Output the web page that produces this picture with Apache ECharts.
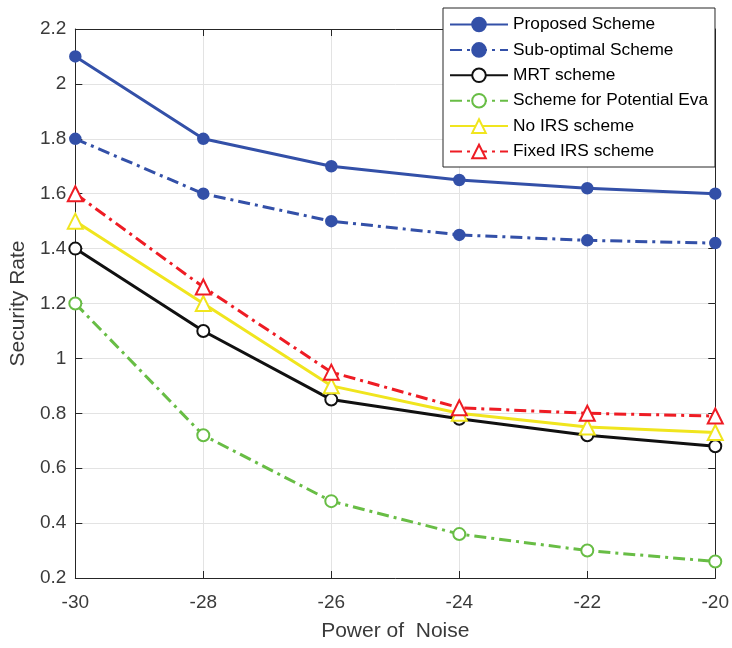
<!DOCTYPE html>
<html>
<head>
<meta charset="utf-8">
<script src="https://cdn.jsdelivr.net/npm/echarts@6/dist/echarts.min.js"></script>
<style>
  html, body { margin: 0; padding: 0; background: #fff; }
  #chart { width: 732px; height: 648px; }
</style>
</head>
<body>
<div id="chart"></div>
<script>
// x axis: noise power
var noiseLevels = [-30, -28, -26, -24, -22, -20];

// security rate per scheme
var proposed = [2.1, 1.8, 1.7, 1.65, 1.62, 1.6];
var subOptimal = [1.8, 1.6, 1.5, 1.45, 1.43, 1.42];
var mrt = [1.4, 1.1, 0.85, 0.78, 0.72, 0.68];
var potentialEva = [1.2, 0.72, 0.48, 0.36, 0.3, 0.26];
var noIrs = [1.5, 1.2, 0.9, 0.8, 0.75, 0.73];
var fixedIrs = [1.6, 1.26, 0.95, 0.82, 0.8, 0.79];

var seriesNames = ['Proposed Scheme', 'Sub-optimal Scheme', 'MRT scheme', 'Scheme for Potential Eva', 'No IRS scheme', 'Fixed IRS scheme'];

var dashDot = [12, 5, 3, 5];
var font = 'Liberation Sans, Arial, Helvetica, sans-serif';
var axisColor = '#262626';
var labelColor = '#3a3a3a';

function pairs(arr) {
  return arr.map(function (v, i) { return [noiseLevels[i], v]; });
}

function makeSeries(name, data, color, dash, symbol, size) {
  return {
    name: name,
    type: 'line',
    data: pairs(data),
    symbol: symbol,
    symbolSize: size,
    showAllSymbol: true,
    lineStyle: { color: color, width: 3, type: dash },
    itemStyle: { color: color, borderColor: color, borderWidth: 2.5 },
    emphasis: { disabled: true },
    z: 3
  };
}

var option = {
  animation: false,
  backgroundColor: '#fff',
  grid: { left: 75, right: 16, top: 29, bottom: 70 },
  legend: {
    orient: 'vertical',
    left: 443,
    top: 8,
    padding: [8, 7, 7, 6],
    itemWidth: 58,
    itemHeight: 17,
    itemGap: 8.4,
    backgroundColor: '#fff',
    borderColor: '#262626',
    borderWidth: 1,
    borderRadius: 0,
    textStyle: { fontFamily: font, fontSize: 17.3, color: '#000' },
    data: seriesNames
  },
  xAxis: [{
    type: 'value',
    min: -30,
    max: -20,
    interval: 2,
    name: 'Power of  Noise',
    nameLocation: 'middle',
    nameGap: 43,
    nameTextStyle: { fontFamily: font, fontSize: 21, color: labelColor },
    axisLine: { lineStyle: { color: axisColor, width: 1 } },
    axisTick: { inside: true, length: 7, lineStyle: { color: axisColor } },
    axisLabel: { fontFamily: font, fontSize: 19, color: labelColor, margin: 15 },
    splitLine: { show: true, lineStyle: { color: '#e3e3e3', width: 1 } }
  }, {
    type: 'value',
    position: 'top',
    min: -30,
    max: -20,
    interval: 2,
    axisLine: { lineStyle: { color: axisColor, width: 1 } },
    axisTick: { inside: true, length: 7, lineStyle: { color: axisColor } },
    axisLabel: { show: false },
    splitLine: { show: false }
  }],
  yAxis: [{
    type: 'value',
    min: 0.2,
    max: 2.2,
    interval: 0.2,
    name: 'Security Rate',
    nameLocation: 'middle',
    nameGap: 42,
    nameTextStyle: { fontFamily: font, fontSize: 21, color: labelColor },
    axisLine: { show: true, lineStyle: { color: axisColor, width: 1 } },
    axisTick: { show: true, inside: true, length: 7, lineStyle: { color: axisColor } },
    axisLabel: { fontFamily: font, fontSize: 19, color: labelColor, margin: 9 },
    splitLine: { show: true, lineStyle: { color: '#e3e3e3', width: 1 } }
  }, {
    type: 'value',
    position: 'right',
    min: 0.2,
    max: 2.2,
    interval: 0.2,
    axisLine: { show: true, lineStyle: { color: axisColor, width: 1 } },
    axisTick: { show: true, inside: true, length: 7, lineStyle: { color: axisColor } },
    axisLabel: { show: false },
    splitLine: { show: false }
  }],
  series: [
    makeSeries(seriesNames[0], proposed, '#3350a8', 'solid', 'circle', 10),
    makeSeries(seriesNames[1], subOptimal, '#3350a8', dashDot, 'circle', 10),
    makeSeries(seriesNames[2], mrt, '#111111', 'solid', 'emptyCircle', 12),
    makeSeries(seriesNames[3], potentialEva, '#68bd45', dashDot, 'emptyCircle', 12),
    makeSeries(seriesNames[4], noIrs, '#f0e51e', 'solid', 'emptyTriangle', 15),
    makeSeries(seriesNames[5], fixedIrs, '#ee1c24', dashDot, 'emptyTriangle', 15)
  ]
};

var chart = echarts.init(document.getElementById('chart'));
chart.setOption(option);
</script>
</body>
</html>
